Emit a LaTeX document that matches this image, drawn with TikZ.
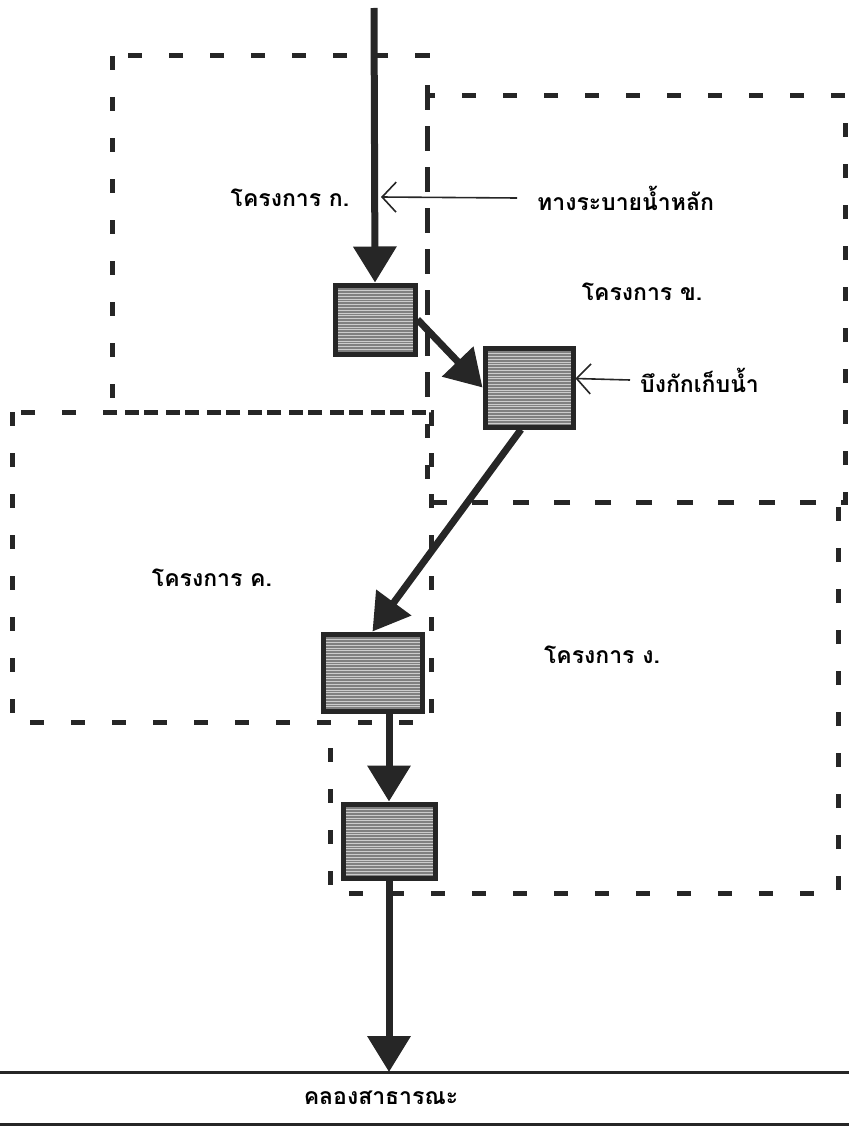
\documentclass[tikz,border=0pt]{standalone}
\usepackage{fontspec}
\newfontfamily\thai[Script=Thai]{Loma}
\usetikzlibrary{arrows.meta}
\begin{document}
\begin{tikzpicture}[x=1pt,y=-1pt,
  zone/.style={draw=black!85, line width=5pt, dash pattern=on 14pt off 27pt},
  tank/.style={draw=black!85, line width=5pt, fill=black!50, inner sep=0pt,
    path picture={\foreach \k in {1,...,32}
      \draw[white!80!black, line width=0.9pt]
        ([yshift=-\k*2.8pt]path picture bounding box.north west) --
        ([yshift=-\k*2.8pt]path picture bounding box.north east);}},
  flow/.style={draw=black!85, line width=7pt, -{Triangle[width=42pt,length=36pt]}},
  pointer/.style={draw=black!85, line width=1.6pt, -{Straight Barb[length=14pt,width=30pt]}},
  lbl/.style={font=\thai\bfseries\fontsize{23}{27}\selectfont, inner sep=0pt}
]
\useasboundingbox (0,0) rectangle (849,1129);

% project zones: zone D lies partly behind zone C
\draw[zone] (330,502) rectangle (838,893);
\draw[zone, fill=white] (12,412) rectangle (431,722);
\draw[zone] (427,96) rectangle (845,502);
\draw[zone] (112,56) rectangle (427,412);

% retention ponds
\node[tank, minimum width=80pt, minimum height=69pt] (t1) at (375,319.5) {};
\node[tank, minimum width=88pt, minimum height=79pt] (t2) at (529,387.5) {};
\node[tank, minimum width=99pt, minimum height=77pt] (t3) at (372.5,672.5) {};
\node[tank, minimum width=92pt, minimum height=74pt] (t4) at (389,841) {};

% canal
\draw[line width=3pt, black!85] (0,1072) -- (849,1072);
\draw[line width=3pt, black!85] (0,1124) -- (849,1124);
\node[lbl] (canal) at (381,1098) {คลองสาธารณะ};
\coordinate (outlet) at (389,1072);

% main drainage flow
\coordinate (src) at (374,8);
\draw[flow] (src) -- (t1.north);
\draw[flow] (t1.east) -- (t2.west);
\draw[flow] ([xshift=-8pt]t2.south) -- (t3.north);
\draw[flow] (t3.south -| t4.north) -- (t4.north);
\draw[flow] (t4.south) -- (outlet);

% labels
\node[lbl] (ka) at (290,198) {โครงการ ก.};
\node[lbl] (kha) at (642,292) {โครงการ ข.};
\node[lbl] (kho) at (212,578) {โครงการ ค.};
\node[lbl] (ngo) at (602,655) {โครงการ ง.};

\node[lbl, anchor=west] (drain) at (537,198) {ทางระบายน้ำหลัก};
\coordinate (drainTip) at (381,197);
\draw[pointer] ([xshift=-20pt]drain.west) -- (drainTip);

\node[lbl, anchor=west] (pond) at (640,380) {บึงกักเก็บน้ำ};
\draw[pointer] ([xshift=-10pt]pond.west) -- ([yshift=9pt]t2.east);
\end{tikzpicture}
\end{document}
